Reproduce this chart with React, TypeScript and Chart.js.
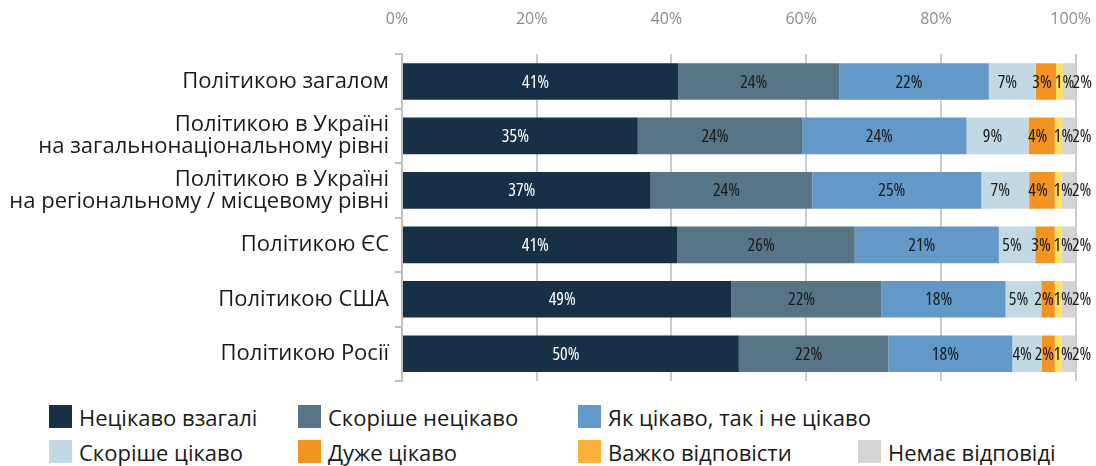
import React, { useEffect, useRef } from "react";
import { Chart, registerables } from "chart.js";

Chart.register(...registerables);

const categories: string[][] = [
  ["Політикою загалом"],
  ["Політикою в Україні", "на загальнонаціональному рівні"],
  ["Політикою в Україні", "на регіональному / місцевому рівні"],
  ["Політикою ЄС"],
  ["Політикою США"],
  ["Політикою Росії"],
];

const seriesNames = [
  "Нецікаво взагалі",
  "Скоріше нецікаво",
  "Як цікаво, так і не цікаво",
  "Скоріше цікаво",
  "Дуже цікаво",
  "Важко відповісти",
  "Немає відповіді",
];

const notInterestedAtAll = [41.0, 35.0, 36.9, 40.9, 48.9, 50.0];
const ratherNotInterested = [23.9, 24.4, 24.0, 26.3, 22.3, 22.2];
const neutral = [22.2, 24.4, 25.1, 21.4, 18.4, 18.4];
const ratherInterested = [7.0, 9.2, 7.1, 5.4, 5.3, 4.4];
const veryInterested = [3.0, 3.9, 3.8, 2.9, 2.0, 1.9];
const hardToSay = [1.0, 1.1, 1.0, 1.0, 1.0, 1.0];
const noAnswer = [1.9, 2.0, 2.1, 2.1, 2.1, 2.1];

const xTicks = [0, 20, 40, 60, 80, 100];

const barColors = ["#173046", "#587587", "#6299c9", "#c2d9e3", "#f39322", "#fde05e", "#d4d4d4"];
const legendColors = ["#173046", "#587587", "#6299c9", "#c2d9e3", "#f39322", "#fbb13c", "#d4d4d4"];
const labelColors = ["#ffffff", "#1a1a1a", "#1a1a1a", "#1a1a1a", "#1a1a1a", "#1a1a1a", "#1a1a1a"];
const labelShift = [-5, -5, -5, -5, -4, 5, 13];

const seriesValues = [
  notInterestedAtAll,
  ratherNotInterested,
  neutral,
  ratherInterested,
  veryInterested,
  hardToSay,
  noAnswer,
];

const OPEN = '"Open Sans", "Noto Sans", sans-serif';

const segmentLabels = {
  id: "segmentLabels",
  afterDatasetsDraw(chart: any) {
    const ctx = chart.ctx;
    ctx.save();
    ctx.font = `condensed 18px ${OPEN}`;
    try {
      (ctx as any).fontStretch = "condensed";
    } catch (e) {}
    ctx.textAlign = "center";
    ctx.textBaseline = "middle";
    chart.data.datasets.forEach((ds: any, di: number) => {
      const meta = chart.getDatasetMeta(di);
      meta.data.forEach((bar: any, i: number) => {
        const v = ds.data[i];
        const cx = (bar.x + bar.base) / 2 + labelShift[di];
        ctx.fillStyle = labelColors[di];
        ctx.fillText(`${Math.round(v)}%`, cx, bar.y + 1);
      });
    });
    ctx.restore();
  },
};

function ChartView() {
  const ref = useRef<HTMLCanvasElement | null>(null);
  useEffect(() => {
    if (!ref.current) return;
    const chart = new Chart(ref.current, {
      type: "bar",
      data: {
        labels: categories,
        datasets: seriesNames.map((name, i) => ({
          label: name,
          data: seriesValues[i],
          backgroundColor: barColors[i],
          borderWidth: 0,
          barPercentage: 0.672,
          categoryPercentage: 1,
        })),
      },
      options: {
        indexAxis: "y",
        animation: false,
        responsive: false,
        maintainAspectRatio: false,
        layout: { padding: { top: 10, right: 19, bottom: 0, left: 0 } },
        plugins: {
          legend: { display: false },
          tooltip: { enabled: false },
        },
        scales: {
          x: {
            position: "top",
            stacked: true,
            min: 0,
            max: 100,
            afterBuildTicks: (scale: any) => {
              scale.ticks = xTicks.map((v) => ({ value: v }));
            },
            ticks: {
              callback: (v: any) => `${v}%`,
              color: "#8c8c8c",
              font: { family: OPEN, size: 16 },
              padding: 0,
              labelOffset: -5,
              maxRotation: 0,
              autoSkip: false,
            },
            grid: {
              color: "#cccccc",
              lineWidth: 2,
              drawTicks: true,
              tickLength: 25,
              tickColor: "rgba(0,0,0,0)",
            },
            border: { display: false },
          },
          y: {
            stacked: true,
            afterFit: (scale: any) => {
              scale.width = 402;
            },
            ticks: {
              color: "#1a1a1a",
              font: { family: OPEN, size: 22, lineHeight: 1.0 },
              padding: 6,
              autoSkip: false,
            },
            grid: {
              drawOnChartArea: false,
              drawTicks: true,
              tickLength: 7,
              color: "#bfbfbf",
              lineWidth: 2,
              offset: true,
            },
            border: { display: true, color: "#bfbfbf", width: 2 },
          },
        },
      },
      plugins: [segmentLabels],
    });
    return () => chart.destroy();
  }, []);
  return <canvas ref={ref} width={1096} height={398} style={{ position: "absolute", left: 0, top: 0 }} />;
}

const legendRows = [
  [0, 1, 2],
  [3, 4, 5, 6],
];
const legendCols = [49, 298, 578, 858];
const legendTops = [405, 440];

export default function App() {
  return (
    <div style={{ position: "absolute", left: 0, top: 0, width: 1096, height: 466, background: "#ffffff" }}>
      <ChartView />
      {legendRows.map((row, ri) =>
        row.map((si, ci) => (
          <div
            key={si}
            style={{
              position: "absolute",
              left: legendCols[ci],
              top: legendTops[ri],
              height: 23,
              display: "flex",
              alignItems: "center",
              fontFamily: OPEN,
              fontSize: 22,
              color: "#1a1a1a",
              whiteSpace: "nowrap",
            }}
          >
            <span style={{ display: "inline-block", width: 23, height: 23, background: legendColors[si], marginRight: 7 }} />
            <span>{seriesNames[si]}</span>
          </div>
        ))
      )}
    </div>
  );
}
